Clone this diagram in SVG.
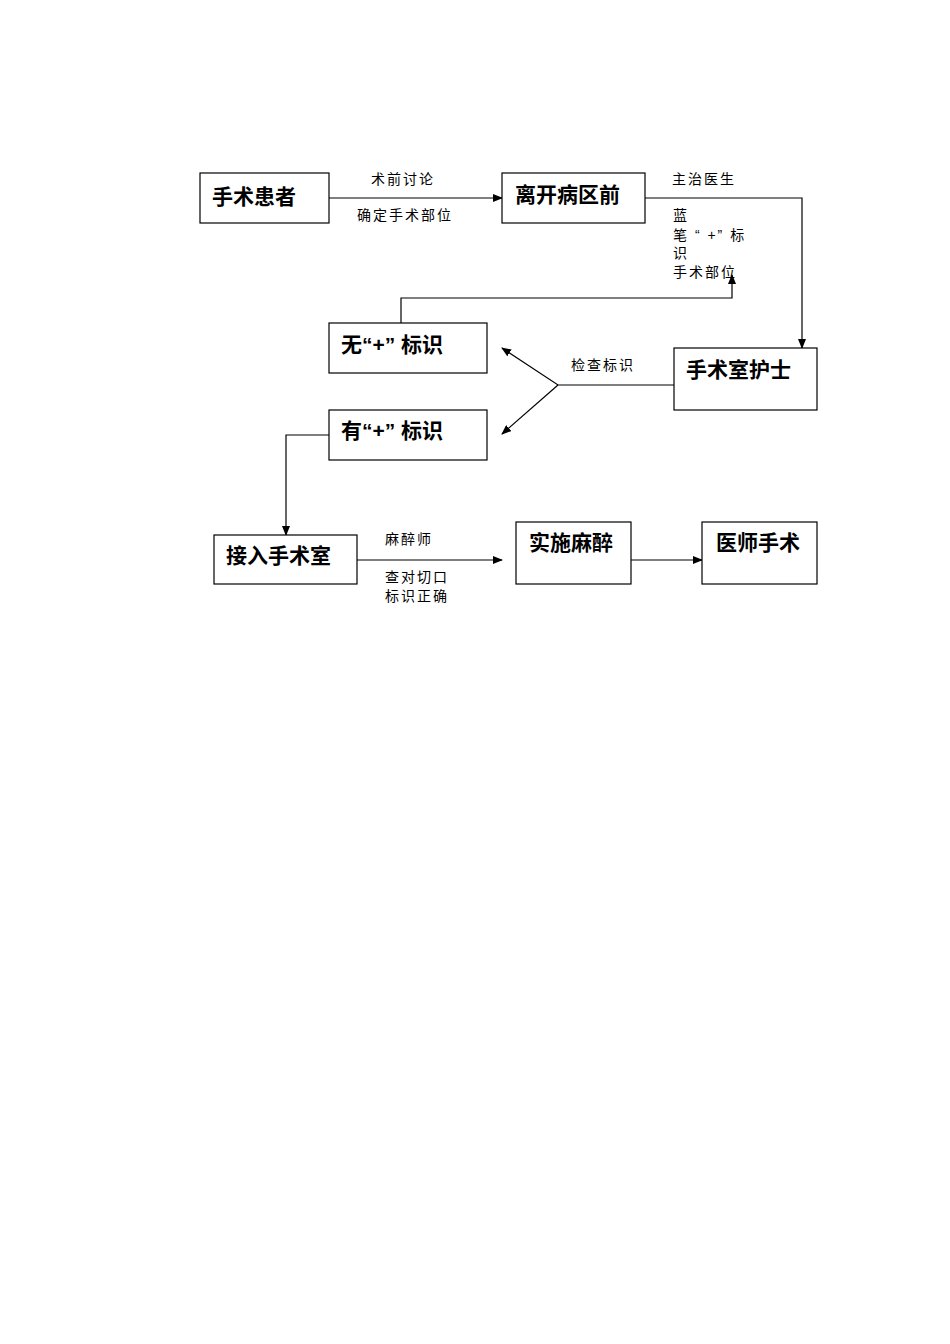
<svg xmlns="http://www.w3.org/2000/svg" width="950" height="1344" viewBox="0 0 950 1344">
<style>
.b{fill:#fff;stroke:#000;stroke-width:1.2}
.t{font-family:"Liberation Sans","Noto Sans CJK SC",sans-serif;font-size:21px;font-weight:bold}
.s{font-family:"Liberation Sans","Noto Sans CJK SC",sans-serif;font-size:14px;letter-spacing:2px}
.c{fill:none;stroke:#000;stroke-width:1.2}
</style>
<defs><marker id="a" markerWidth="10" markerHeight="8" refX="9" refY="4" orient="auto" markerUnits="userSpaceOnUse"><path d="M0,0L10,4L0,8z"/></marker></defs>
<rect width="950" height="1344" fill="#fff"/>
<g id="connectors">
<path class="c" d="M329,198H502" marker-end="url(#a)"/>
<path class="c" d="M645,198H802V348" marker-end="url(#a)"/>
<path class="c" d="M401,323V298H732V275" marker-end="url(#a)"/>
<path class="c" d="M674,385H558L502,348" marker-end="url(#a)"/>
<path class="c" d="M558,385L502,434" marker-end="url(#a)"/>
<path class="c" d="M329,435H286V535" marker-end="url(#a)"/>
<path class="c" d="M357,560H502" marker-end="url(#a)"/>
<path class="c" d="M631,560H702" marker-end="url(#a)"/>
</g>
<g id="labels">
<text class="s" x="371" y="184">术前讨论</text>
<text class="s" x="357" y="220">确定手术部位</text>
<text class="s" x="672" y="184">主治医生</text>
<text class="s" x="673" y="220">蓝</text>
<text class="s" x="673" y="240">笔 “ +” 标</text>
<text class="s" x="673" y="258">识</text>
<text class="s" x="673" y="277">手术部位</text>
<text class="s" x="571" y="370">检查标识</text>
<text class="s" x="385" y="544">麻醉师</text>
<text class="s" x="385" y="582">查对切口</text>
<text class="s" x="385" y="601">标识正确</text>
</g>
<g id="n1"><rect class="b" x="200" y="173" width="129" height="50"/><text class="t" x="212" y="204">手术患者</text></g>
<g id="n2"><rect class="b" x="502" y="173" width="143" height="50"/><text class="t" x="515" y="202">离开病区前</text></g>
<g id="n3"><rect class="b" x="674" y="348" width="143" height="62"/><text class="t" x="686" y="377">手术室护士</text></g>
<g id="n4"><rect class="b" x="329" y="323" width="158" height="50"/><text class="t" x="341" y="352">无“+” 标识</text></g>
<g id="n5"><rect class="b" x="329" y="410" width="158" height="50"/><text class="t" x="341" y="438">有“+” 标识</text></g>
<g id="n6"><rect class="b" x="214" y="535" width="143" height="49"/><text class="t" x="226" y="563">接入手术室</text></g>
<g id="n7"><rect class="b" x="516" y="522" width="115" height="62"/><text class="t" x="529" y="550">实施麻醉</text></g>
<g id="n8"><rect class="b" x="702" y="522" width="115" height="62"/><text class="t" x="716" y="550">医师手术</text></g>
</svg>
